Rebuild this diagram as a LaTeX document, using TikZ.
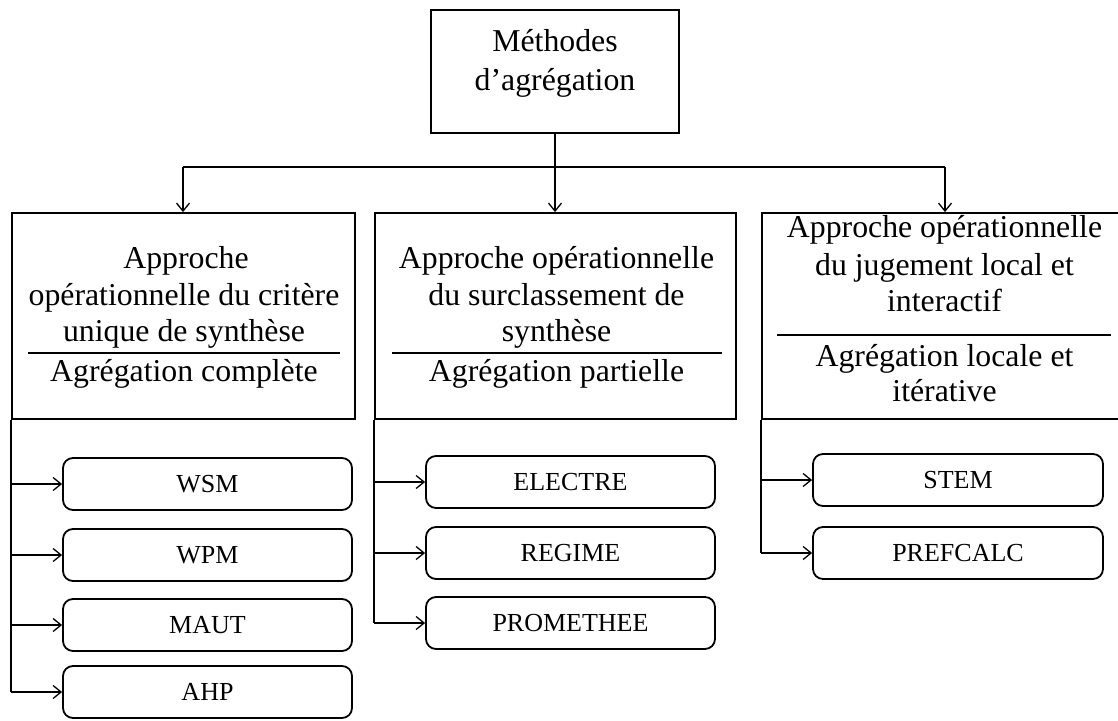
\documentclass[tikz,border=0pt]{standalone}
\usepackage{fontspec}
\setmainfont{Liberation Serif}
\usetikzlibrary{arrows.meta}
\begin{document}
\begin{tikzpicture}[x=1pt,y=-1pt,
  bigbox/.style={draw, line width=1.8pt, rectangle, inner sep=0pt},
  item/.style={draw, line width=1.8pt, rounded corners=10pt, minimum width=289pt, minimum height=52pt, inner sep=0pt, font=\fontsize{26}{30}\selectfont},
  txt/.style={anchor=base, inner sep=0pt, font=\fontsize{31.8}{37}\selectfont},
  conn/.style={line width=1.3pt},
  arr/.style={line width=1.3pt, -{Straight Barb[length=8pt,width=13pt,line width=1.3pt]}},
  sepline/.style={line width=2pt}]
\useasboundingbox (0,0) rectangle (1118,720);
\clip (0,0) rectangle (1118,720);
% main boxes
\node[bigbox, minimum width=248pt, minimum height=123pt] (top) at (555,71.5) {};
\node[bigbox, minimum width=343pt, minimum height=206pt] (left) at (183.5,316) {};
\node[bigbox, minimum width=361pt, minimum height=206pt] (mid) at (555.5,316) {};
\node[bigbox, minimum width=363pt, minimum height=206pt] (right) at (943.5,316) {};
% top text
\node[txt] (t1) at (555,51) {Méthodes};
\node[txt] (t2) at (555,90) {d’agrégation};
% left text
\node[txt] (l1) at (186,268) {Approche};
\node[txt] (l2) at (184,305) {opérationnelle du critère};
\node[txt] (l3) at (184,341) {unique de synthèse};
\node[txt] (l4) at (184,381) {Agrégation complète};
\draw[sepline] (28,353) -- (340,353);
% middle text
\node[txt] (m1) at (556.5,268) {Approche opérationnelle};
\node[txt] (m2) at (556.5,305) {du surclassement de};
\node[txt] (m3) at (556.5,341) {synthèse};
\node[txt] (m4) at (556.5,381) {Agrégation partielle};
\draw[sepline] (392,353) -- (722,353);
% right text
\node[txt] (r1) at (944.5,237) {Approche opérationnelle};
\node[txt] (r2) at (944.5,275) {du jugement local et};
\node[txt] (r3) at (944.5,311) {interactif};
\node[txt] (r4) at (944.5,366) {Agrégation locale et};
\node[txt] (r5) at (944.5,401) {itérative};
\draw[sepline] (777,335) -- (1111,335);
% top connectors
\coordinate (j) at (555,167);
\coordinate (jl) at (183,167);
\coordinate (jr) at (945,167);
\draw[conn] (top.south) -- (j);
\draw[conn] (jl) -- (jr);
\draw[arr] (jl) -- (jl |- left.north);
\draw[arr] (j) -- (j |- mid.north);
\draw[arr] (jr) -- (jr |- right.north);
% items
\node[item] (wsm) at (207.5,484) {WSM};
\node[item] (wpm) at (207.5,555) {WPM};
\node[item] (maut) at (207.5,625) {MAUT};
\node[item] (ahp) at (207.5,692) {AHP};
\node[item] (electre) at (570.5,482) {ELECTRE};
\node[item] (regime) at (570.5,553) {REGIME};
\node[item] (promethee) at (570.5,623) {PROMETHEE};
\node[item, minimum width=290pt] (stem) at (958,480) {STEM};
\node[item, minimum width=290pt] (prefcalc) at (958,553) {PREFCALC};
% column connectors
\draw[conn] (left.south west) -- (left.south west |- ahp.west);
\foreach \n in {wsm,wpm,maut,ahp} \draw[arr] (left.south west |- \n.west) -- (\n.west);
\draw[conn] (mid.south west) -- (mid.south west |- promethee.west);
\foreach \n in {electre,regime,promethee} \draw[arr] (mid.south west |- \n.west) -- (\n.west);
\draw[conn] (right.south west) -- (right.south west |- prefcalc.west);
\foreach \n in {stem,prefcalc} \draw[arr] (right.south west |- \n.west) -- (\n.west);
\end{tikzpicture}
\end{document}
